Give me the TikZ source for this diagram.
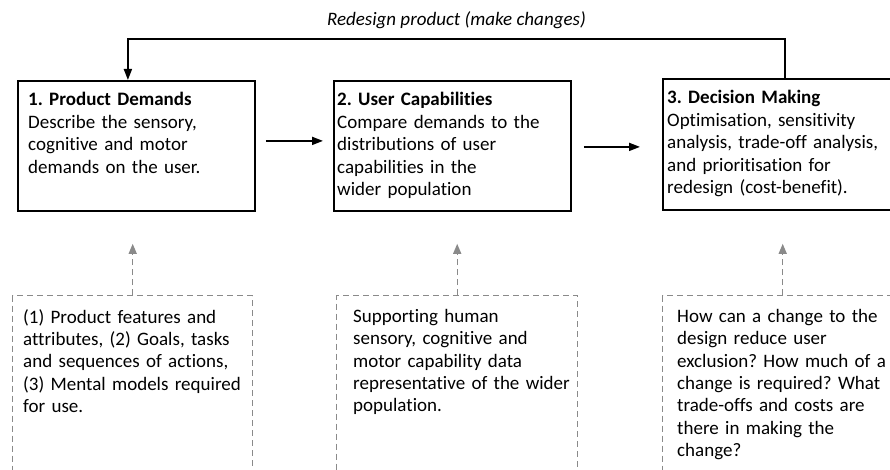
\documentclass[tikz,border=0pt]{standalone}
\usepackage{fontspec}
\setmainfont{Carlito}[Ligatures=NoCommon]
\usetikzlibrary{arrows.meta,calc}
\definecolor{dashgray}{HTML}{8A8A8A}
\tikzset{
  stagebox/.style={draw=black, line width=1.8pt, rectangle, inner sep=0pt, anchor=north west},
  stagetext/.style={anchor=north west, inner sep=0pt, align=left, font=\fontsize{19}{22.4}\selectfont},
  notebox/.style={draw=dashgray, line width=1.4pt, dash pattern=on 6pt off 4pt, rectangle, inner sep=0pt, anchor=north west},
  flow/.style={line width=1.8pt, -{Triangle[length=11pt,width=8pt]}},
  support/.style={draw=dashgray, line width=1.4pt, dash pattern=on 6pt off 4pt, -{Triangle[length=10pt,width=8pt,fill=dashgray]}},
}
\frenchspacing
\begin{document}
\begin{tikzpicture}[x=1pt,y=-1pt]
\useasboundingbox (0,0) rectangle (890,470);
\clip (0,0) rectangle (890,470);

% solid stage boxes
\node[stagebox, minimum width=237pt, minimum height=130pt] (b1) at (17,80) {};
\node[stagebox, minimum width=237pt, minimum height=130pt] (b2) at (333,80) {};
\node[stagebox, minimum width=240pt, minimum height=131pt] (b3) at (662,78) {};

\node[stagetext, text width=225pt] (t1) at (28,92)
  {\textbf{1. Product Demands}\\[0.6pt]Describe the sensory,\\cognitive and motor\\demands on the user.};
\node[stagetext, text width=230pt] (t2) at (337,92)
  {\textbf{2. User Capabilities}\\[0.6pt]Compare demands to the\\distributions of user\\capabilities in the\\wider population};
\node[stagetext, text width=220pt] (t3) at (667,90)
  {\textbf{3. Decision Making}\\[0.6pt]Optimisation, sensitivity\\analysis, trade-off analysis,\\and prioritisation for\\redesign (cost-benefit).};

% dashed note boxes, open below the page edge
\node[notebox, minimum width=240pt, minimum height=200pt] (n1) at (12,295) {};
\node[notebox, minimum width=241pt, minimum height=200pt] (n2) at (336,295) {};
\node[notebox, minimum width=240pt, minimum height=200pt] (n3) at (662,295) {};

\node[stagetext, text width=230pt] (m1) at (23,309)
  {(1) Product features and\\attributes, (2) Goals, tasks\\and sequences of actions,\\(3) Mental models required\\for use.};
\node[stagetext, text width=230pt] (m2) at (353,309)
  {Supporting human\\sensory, cognitive and\\motor capability data\\representative of the wider\\population.};
\node[stagetext, text width=210pt] (m3) at (677,309)
  {How can a change to the\\design reduce user\\exclusion? How much of a\\change is required? What\\trade-offs and costs are\\there in making the\\change?};

% forward flow
\coordinate (a1s) at ($(b1.east)+(10,-5)$);
\coordinate (a1e) at ($(b2.west)+(-10,-5)$);
\draw[flow] (a1s) -- (a1e);
\coordinate (a2s) at ($(b2.east)+(12,1)$);
\coordinate (a2e) at ($(b3.west |- a2s)+(-22,0)$);
\draw[flow] (a2s) -- (a2e);

% feedback loop
\coordinate (fbs) at ($(b3.north)+(2,0)$);
\coordinate (fbe) at ($(b1.north)+(-8.5,0)$);
\draw[flow] (fbs) -- ++(0,-39) -| (fbe)
  node[pos=0.25, above=6pt, font=\fontsize{19}{20}\selectfont\itshape] (fbl) {Redesign product (make changes)};

% supporting information
\draw[support] (n1.north) -- ($(n1.north |- b1.south)+(0,32)$);
\draw[support] (n2.north) -- ($(n2.north |- b2.south)+(0,32)$);
\draw[support] (n3.north) -- ($(n3.north |- b3.south)+(0,33)$);
\end{tikzpicture}
\end{document}
